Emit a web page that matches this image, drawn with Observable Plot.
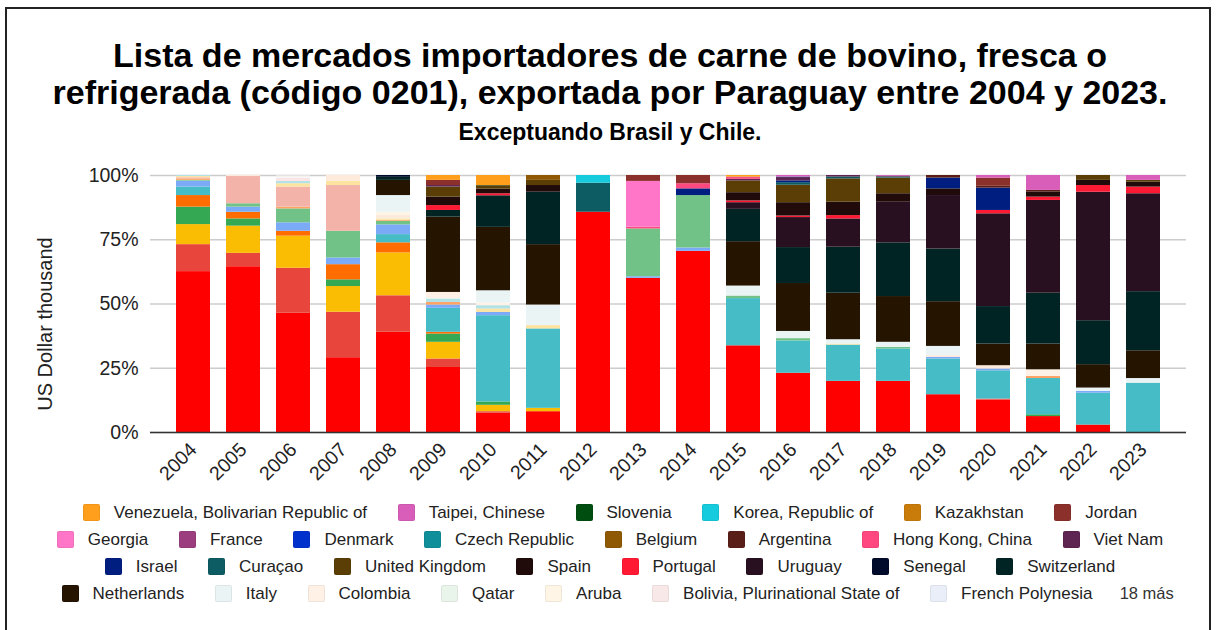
<!DOCTYPE html>
<html>
<head>
<meta charset="utf-8">
<script src="https://cdn.jsdelivr.net/npm/d3@7"></script>
<script src="https://cdn.jsdelivr.net/npm/@observablehq/plot@0.6"></script>
<style>
  html, body { margin: 0; padding: 0; background: #fff; }
  body { width: 1220px; height: 630px; overflow: hidden; position: relative; font-family: "Liberation Sans", Arial, sans-serif; }
  #frame { position: absolute; left: 5px; top: 7px; width: 1206px; height: 640px; border: 2px solid #222; box-sizing: border-box; }
  #title { position: absolute; left: 0; top: 37px; width: 1220px; text-align: center; font-weight: bold; font-size: 34px; line-height: 37px; color: #000; }
  #subtitle { position: absolute; left: 0; top: 119px; width: 1220px; text-align: center; font-weight: bold; font-size: 23px; color: #000; }
  #chart { position: absolute; left: 0; top: 150px; }
  #ylabel { position: absolute; left: 45px; top: 324px; transform: translate(-50%, -50%) rotate(-90deg); font-size: 20px; color: #222; white-space: nowrap; }
  #legend { position: absolute; left: 0; top: 499px; width: 1220px; font-size: 17px; color: #222; }
  .row { display: flex; justify-content: center; align-items: center; height: 27px; }
  .item { display: flex; align-items: center; margin: 0 15.3px; white-space: nowrap; }
  .sw { width: 17px; height: 17px; border-radius: 2px; margin-right: 14px; box-sizing: border-box; border: 1px solid rgba(0,0,0,0.06); }
  .more { margin-left: 12px; color: #333; font-size: 16.5px; }
</style>
</head>
<body>
<div id="frame"></div>
<div id="title">Lista de mercados importadores de carne de bovino, fresca o<br>refrigerada (código 0201), exportada por Paraguay entre 2004 y 2023.</div>
<div id="subtitle">Exceptuando Brasil y Chile.</div>
<div id="chart"></div>
<div id="ylabel">US Dollar thousand</div>
<div id="legend"></div>
<script>
const years = ["2004","2005","2006","2007","2008","2009","2010","2011","2012","2013","2014","2015","2016","2017","2018","2019","2020","2021","2022","2023"];

// Series in stacking order (bottom to top). The first 18 are the "18 más" not shown in the legend.
const seriesNames = [
  "Russian Federation","Germany","Iran","Lebanon","Peru","Kuwait","Cuba","Hungary","Egypt","Angola",
  "Albania","Moldova","Ukraine","Ghana","Gabon","Congo","Malta","Greece",
  "French Polynesia","Bolivia, Plurinational State of","Aruba","Qatar","Colombia","Italy","Netherlands",
  "Switzerland","Senegal","Uruguay","Portugal","Spain","United Kingdom","Curaçao","Israel","Viet Nam",
  "Hong Kong, China","Argentina","Belgium","Czech Republic","Denmark","France","Georgia","Jordan",
  "Kazakhstan","Korea, Republic of","Slovenia","Taipei, Chinese","Venezuela, Bolivarian Republic of"
];

const seriesColors = [
  "#FF0000","#E8453C","#FBBC04","#34A853","#FF6D01","#46BDC6","#7BAAF7","#71C287","#FFA366","#F4B3A9",
  "#FCE3A0","#B3E2E6","#FCE4E4","#FDEADB","#F0F4FA","#EEF7F0","#FDF3E7","#F3EEF7",
  "#E9EEF9","#F9E8E8","#FFF5E6","#E9F4EA","#FFF1E6","#EAF4F5","#241400",
  "#002424","#000A2A","#281020","#FF1933","#200A0A","#5A3E06","#0D5C63","#001D80","#5E2452",
  "#FF4880","#5A1E18","#8F5904","#108E9A","#0031CC","#9C3D80","#FF75C8","#8C302C",
  "#C97C0A","#16CBDD","#004D10","#D95EB9","#FF9F1C"
];

// Share of each market per year (%), one row per series in the order above, columns 2004..2023.
const shares = [
  [62.6,64.5,46.4,29.1,39.0,25.3,7.5,8.1,85.7,60.0,70.5,33.8,23.1,19.9,19.9,14.7,12.6,6.2,2.9,0],
  [10.5,5.2,17.5,17.7,14.2,3.3,0.6,0,0,0,0,0,0,0,0,0,0.4,0,0,0],
  [7.8,10.6,12.5,10.0,16.7,6.5,2.5,1.3,0,0,0,0,0,0,0,0,0,0,0,0],
  [6.8,2.8,0,2.6,0,3.2,1.3,0,0,0,0,0,0,0,0,0,0,0.7,0,0],
  [4.5,2.6,1.9,5.9,3.9,0.7,0,0,0,0,0,0,0,0,0,0,0,0,0,0],
  [3.3,0,0,0,3.2,9.3,33.6,30.9,0,0,0,18.4,12.6,14.1,12.6,13.9,11.0,14.1,12.4,19.2],
  [2.3,2.0,3.3,2.6,3.8,1.3,1.3,0,0,0.6,1.3,0,0,0,0,0.6,0.7,0,0.7,0],
  [0.3,1.3,5.4,10.4,1.4,0,0,0,0,18.6,20.4,1.0,0.9,0,0.6,0,0,0,0,0],
  [0.6,0,0.7,0,0.4,1.0,0,0,0,0,0,0,0,0,0,0,0,0.8,0,0],
  [0.4,10.6,7.8,17.8,0,0,0,0,0,0,0,0,0,0,0,0,0,0,0,0],
  [0.5,0,1.3,1.6,0.5,0,1.3,1.3,0,0,0,0,0,0.4,0,0,0,0,0,0],
  [0.4,0,0.9,0,0,1.3,1.3,0,0,0,0,0,0,0,0,0,0,0,0,0],
  [0,0,1.2,0,0,0,0,0,0,0,0,0,0,0,0,0,0,0,0,0],
  [0,0.4,0,2.3,1.3,0,0,0,0,0,0,0,0,0,0,0.7,1.3,0,0,0],
  [0,0,0.3,0,0,0,0,0,0,0,0,0,0,0,0,0,0,0,0,0],
  [0,0,0.2,0,0,0,0,0,0,0,0,0,0,0,0,0,0,0,0,0],
  [0,0,0.3,0,0,0,0,0,0,0,0,0,0,0,0,0,0,0,0,0],
  [0,0,0.1,0,0,0,0,0,0,0,0,0,0,0,0,0,0,0,0,0],
  [0,0,0.1,0,0,0,0,0,0,0,0,0,0,0,0,0,0,0,0,0],
  [0,0,0.1,0,0,0,0,0,0,0,0,0,0,0,0,0,0,0,0,0],
  [0,0,0,0,1.3,0,0,0,0,0,0,0,0,0,0,0,0,0,0,0],
  [0,0,0,0,0,0.2,0,0,0,0,0,0,0,0,0,0,0,0,0,0],
  [0,0,0,0,0,2.4,1.0,0,0,0,0,0,0,0,0,0,0,2.6,0,0],
  [0,0,0,0,6.5,0,4.8,8.0,0,0,0,3.9,2.8,1.7,2.0,3.6,0,0,1.3,1.8],
  [0,0,0,0,5.9,29.3,24.7,23.5,0,0,0,17.3,18.7,18.1,17.8,17.4,8.4,10.0,9.1,10.8],
  [0,0,0,0,1.2,2.6,12.3,20.4,0,0,0,12.6,14.0,17.9,20.9,20.5,14.6,19.8,17.1,23.0],
  [0,0,0,0,0.7,0,0,0,0,0,0,0,0,0,0,0,0,0,0,0],
  [0,0,0,0,0,0,0,0,0,0,0,2.6,11.7,11.0,15.8,20.8,36.1,36.1,50.0,38.1],
  [0,0,0,0,0,1.9,0.8,0,0,0,0,0.7,0.6,1.3,0,0,1.3,1.3,2.6,2.6],
  [0,0,0,0,0,3.3,1.8,2.6,0,0,0,3.2,5.2,5.2,3.3,2.6,0,1.9,2.0,1.9],
  [0,0,0,0,0,3.9,1.3,2.0,0,0,0,4.6,6.8,9.1,6.1,0,0,0,1.9,0.7],
  [0,0,0,0,0,0,0,0,11.3,0,0,0,1.0,0.7,0.4,0,0,0,0,0],
  [0,0,0,0,0,0,0,0,0,0,2.6,0,0.7,0,0,4.2,8.7,0,0,0],
  [0,0,0,0,0,0.6,0,0,0,0,0,0.6,1.3,0.6,0.3,0,0,0,0,0],
  [0,0,0,0,0,0,0,0,0,0.7,2.0,0.7,0,0,0,0,0,0,0,0],
  [0,0,0,0,0,0,0,0,0,0,0,0,0,0,0,1.0,0.7,0.7,0,0],
  [0,0,0,0,0,0,0,1.9,0,0,0,0,0,0,0,0,0,0,0,0],
  [0,0,0,0,0,0,0,0,0,0,0,0,0.1,0,0,0,0,0,0,0],
  [0,0,0,0,0,0,0,0,0,0,0,0,0.1,0,0,0,0,0,0,0],
  [0,0,0,0,0,0,0,0,0,0,0,0.1,0,0,0,0,0,0,0,0],
  [0,0,0,0,0,0,0,0,0,17.8,0,0,0,0,0,0,0,0,0,0],
  [0,0,0,0,0,2.0,0,0,0,2.3,3.2,0,0,0,0,0,3.2,0,0,0],
  [0,0,0,0,0,0,0,0,0,0,0,0.1,0,0,0,0,0,0,0,0],
  [0,0,0,0,0,0,0,0,3.0,0,0,0,0,0,0,0,0,0,0,0],
  [0,0,0,0,0,0,0.1,0,0,0,0,0,0,0,0,0,0,0,0,0],
  [0,0,0,0,0,0,0,0,0,0,0,0,0.6,0,0.3,0,1.0,5.8,0,1.9],
  [0,0,0,0,0,1.9,3.9,0,0,0,0,0.6,0,0,0,0,0,0,0,0]
];

const yTicks = [0, 0.25, 0.5, 0.75, 1];
const legendRowSizes = [6, 8, 8, 7];
const hiddenCount = 18;

// Build tidy table in stacking order
const rows = [];
seriesNames.forEach((name, i) => {
  years.forEach((yr, j) => {
    const v = shares[i][j];
    if (v > 0) rows.push({year: yr, series: name, value: v});
  });
});

const chart = Plot.plot({
  width: 1220,
  height: 350,
  marginTop: 25,
  marginBottom: 68,
  marginLeft: 150,
  marginRight: 34,
  style: {fontFamily: "'Liberation Sans', Arial, sans-serif", fontSize: "19.5px", color: "#222", background: "transparent"},
  x: {domain: years, padding: 0.33, label: null},
  y: {domain: [0, 1], label: null},
  color: {domain: seriesNames, range: seriesColors},
  marks: [
    Plot.gridY(yTicks, {stroke: "#cccccc", strokeOpacity: 1, strokeWidth: 1.3}),
    Plot.barY(rows, Plot.stackY({x: "year", y: "value", fill: "series", offset: "normalize", order: null})),
    Plot.ruleY([0], {stroke: "#333", strokeWidth: 1.5}),
    Plot.axisY(yTicks, {tickFormat: d3.format(".0%"), tickSize: 0, tickPadding: 12, fontSize: 19.5, label: null}),
    Plot.axisX({tickRotate: -45, tickSize: 0, tickPadding: 14, fontSize: 19.5, label: null})
  ]
});
document.getElementById("chart").appendChild(chart);

// Legend: top-to-bottom order of the visible series
const legendNames = seriesNames.slice(hiddenCount).reverse();
const legendColors = seriesColors.slice(hiddenCount).reverse();
const legend = document.getElementById("legend");
let k = 0;
legendRowSizes.forEach((n, r) => {
  const row = document.createElement("div");
  row.className = "row";
  for (let i = 0; i < n; i++, k++) {
    const item = document.createElement("div");
    item.className = "item";
    const sw = document.createElement("span");
    sw.className = "sw";
    sw.style.background = legendColors[k];
    const t = document.createElement("span");
    t.textContent = legendNames[k];
    item.appendChild(sw); item.appendChild(t);
    row.appendChild(item);
  }
  if (r === legendRowSizes.length - 1) {
    const more = document.createElement("span");
    more.className = "more";
    more.textContent = hiddenCount + " más";
    row.appendChild(more);
  }
  legend.appendChild(row);
});
</script>
</body>
</html>
